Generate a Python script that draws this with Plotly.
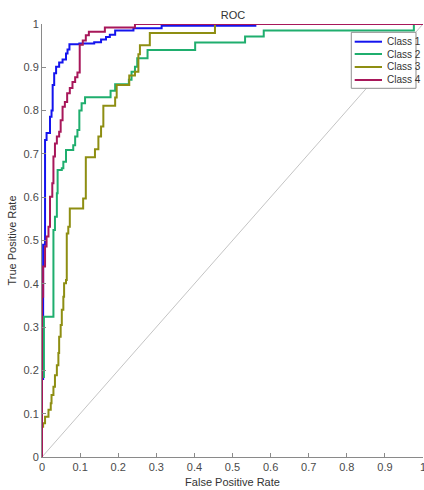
import plotly.graph_objects as go

# ROC step curves: each point = (FPR where curve rises, TPR reached)
class1_fpr = [0, 0, 0.003, 0.008, 0.012, 0.021, 0.025, 0.028, 0.032, 0.037, 0.045, 0.054, 0.063, 0.067, 0.072,
              0.098, 0.137, 0.155, 0.168, 0.178, 0.192, 0.24, 0.314, 0.56, 1.0]
class1_tpr = [0, 0.18, 0.49, 0.732, 0.748, 0.786, 0.80, 0.859, 0.886, 0.901, 0.911, 0.918, 0.932, 0.941, 0.953,
              0.955, 0.958, 0.964, 0.97, 0.975, 0.985, 0.99, 0.996, 1.0, 1.0]

class2_fpr = [0, 0, 0.005, 0.03, 0.034, 0.039, 0.041, 0.052, 0.056, 0.063, 0.082, 0.087, 0.093, 0.098, 0.104,
              0.113, 0.18, 0.192, 0.228, 0.235, 0.244, 0.25, 0.277, 0.402, 0.533, 0.582, 0.976, 1.0]
class2_tpr = [0, 0.185, 0.324, 0.524, 0.555, 0.609, 0.663, 0.667, 0.682, 0.709, 0.72, 0.74, 0.755, 0.80, 0.817,
              0.831, 0.846, 0.861, 0.871, 0.89, 0.901, 0.921, 0.94, 0.957, 0.971, 0.985, 1.0, 1.0]

class3_fpr = [0, 0, 0.003, 0.008, 0.017, 0.023, 0.025, 0.03, 0.034, 0.039, 0.043, 0.045, 0.049, 0.052, 0.056,
              0.058, 0.063, 0.065, 0.069, 0.073, 0.108, 0.115, 0.139, 0.148, 0.155, 0.161, 0.192, 0.196, 0.229,
              0.244, 0.253, 0.257, 0.283, 0.454, 1.0]
class3_tpr = [0, 0.07, 0.078, 0.093, 0.109, 0.124, 0.143, 0.162, 0.189, 0.212, 0.24, 0.278, 0.305, 0.34, 0.37,
              0.401, 0.409, 0.516, 0.532, 0.574, 0.597, 0.692, 0.711, 0.74, 0.763, 0.811, 0.83, 0.859, 0.881,
              0.89, 0.93, 0.951, 0.979, 1.0, 1.0]

class4_fpr = [0, 0, 0.003, 0.008, 0.012, 0.017, 0.021, 0.027, 0.03, 0.034, 0.039, 0.045, 0.049, 0.054, 0.06,
              0.066, 0.073, 0.08, 0.087, 0.093, 0.099, 0.107, 0.115, 0.123, 0.165, 0.244, 1.0]
class4_tpr = [0, 0.37, 0.44, 0.486, 0.509, 0.532, 0.601, 0.632, 0.694, 0.724, 0.74, 0.751, 0.778, 0.809, 0.82,
              0.84, 0.852, 0.866, 0.877, 0.888, 0.952, 0.962, 0.974, 0.982, 0.992, 1.0, 1.0]

chance_fpr = [0, 1]
chance_tpr = [0, 1]

names = ["Class 1", "Class 2", "Class 3", "Class 4"]
colors = ["#1414EE", "#1FAE6E", "#8E8E12", "#A8175A"]
tick_vals = [0, 0.1, 0.2, 0.3, 0.4, 0.5, 0.6, 0.7, 0.8, 0.9, 1]
tick_text = ["0", "0.1", "0.2", "0.3", "0.4", "0.5", "0.6", "0.7", "0.8", "0.9", "1"]

FONT = "Liberation Sans, Arial, Helvetica, sans-serif"

fig = go.Figure()
fig.add_trace(go.Scatter(x=chance_fpr, y=chance_tpr, mode="lines",
                         line=dict(color="#C4C4C4", width=1), showlegend=False, hoverinfo="skip"))
series = [(class1_fpr, class1_tpr), (class2_fpr, class2_tpr), (class3_fpr, class3_tpr), (class4_fpr, class4_tpr)]
for (fx, ty), name, col in zip(series, names, colors):
    fig.add_trace(go.Scatter(x=fx, y=ty, mode="lines", name=name, cliponaxis=False, showlegend=False,
                             line=dict(color=col, width=2, shape="hv")))

# compact MATLAB-style legend box (paper coordinates)
leg_x0, leg_x1, leg_y0, leg_y1 = 0.8118, 0.9816, 0.8515, 0.9808
sample_x0, sample_x1, text_x = 0.8207, 0.8924, 0.8995
row_y = [0.9591, 0.9307, 0.9007, 0.8707]
fig.add_shape(type="rect", xref="paper", yref="paper", x0=leg_x0, x1=leg_x1, y0=leg_y0, y1=leg_y1,
              fillcolor="white", line=dict(color="#8f8f8f", width=1), layer="above")
for name, col, ry in zip(names, colors, row_y):
    fig.add_shape(type="line", xref="paper", yref="paper", x0=sample_x0, x1=sample_x1, y0=ry, y1=ry,
                  line=dict(color=col, width=2), layer="above")
    fig.add_annotation(xref="paper", yref="paper", x=text_x, y=ry, text=name, showarrow=False,
                       xanchor="left", yanchor="middle",
                       font=dict(family=FONT, size=10, color="#333333"))

axis_common = dict(range=[0, 1], tickvals=tick_vals, ticktext=tick_text, ticks="inside", ticklen=4,
                   tickcolor="#8a8a8a", showline=True, linecolor="#8a8a8a", linewidth=1,
                   showgrid=False, zeroline=False, mirror=False, automargin=False,
                   ticklabeloverflow="allow",
                   tickfont=dict(family=FONT, size=11, color="#4a4a4a"))

fig.update_layout(
    width=424, height=490,
    margin=dict(l=42, r=1, t=24, b=33),
    paper_bgcolor="white", plot_bgcolor="white",
    title=dict(text="ROC", x=0.5495, xanchor="center", y=0.9694, yanchor="middle",
               font=dict(family=FONT, size=11, color="#333333")),
    xaxis=dict(**axis_common, title=dict(text="False Positive Rate", standoff=6,
                                         font=dict(family=FONT, size=11, color="#333333"))),
    yaxis=dict(**axis_common, title=dict(text="True Positive Rate", standoff=4,
                                         font=dict(family=FONT, size=11, color="#333333"))),
    showlegend=False,
)

# remove the default 8px page margin so the 424x490 figure fills the window exactly
fig.write_html("out.html",
               config={"displayModeBar": False, "staticPlot": True},
               post_script="document.documentElement.style.margin='0';"
                           "document.body.style.margin='0';document.body.style.overflow='hidden';")
